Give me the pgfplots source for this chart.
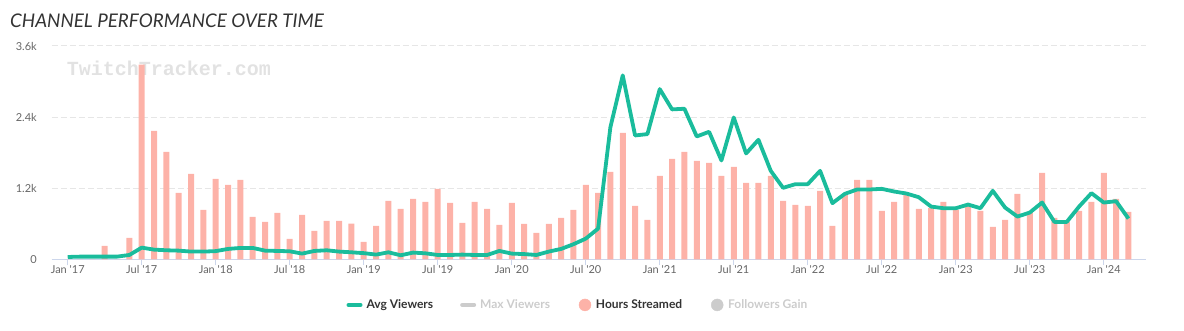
\documentclass[border=0pt]{standalone}
\usepackage{pgfplots}
\usepackage{pgfplotstable}
\pgfplotsset{compat=1.18}
\usepackage{fontspec}
\setmainfont{Lato}
\newfontfamily\wmfont{Liberation Mono}
\definecolor{avgcol}{HTML}{1ABC9C}
\definecolor{barcol}{HTML}{FDB2A8}
\definecolor{gridcol}{HTML}{E6E6E6}
\definecolor{axcol}{HTML}{CCD6EB}
\definecolor{lblcol}{HTML}{666666}
\definecolor{titlecol}{HTML}{333333}
\definecolor{greycol}{HTML}{CCCCCC}
\definecolor{wmcol}{HTML}{E2E2E2}

\pgfplotstableread{
m v
0 0
1 0
2 0
3 225
4 0
5 361
6 3285
7 2169
8 1814
9 1121
10 1442
11 834
12 1358
13 1256
14 1341
15 716
16 631
17 783
18 344
19 749
20 479
21 648
22 648
23 603
24 293
25 563
26 986
27 851
28 1020
29 969
30 1189
31 952
32 614
33 969
34 851
35 580
36 952
37 597
38 445
39 597
40 699
41 834
42 1256
43 1121
44 1476
45 2135
46 901
47 665
48 1409
49 1696
50 1814
51 1662
52 1628
53 1409
54 1561
55 1290
56 1290
57 1409
58 986
59 918
60 901
61 1155
62 563
63 1087
64 1341
65 1341
66 817
67 969
68 1087
69 851
70 868
71 969
72 834
73 901
74 817
75 547
76 665
77 1104
78 783
79 1459
80 699
81 631
82 817
83 969
84 1459
85 1020
86 800
}\hours

\pgfplotstableread{
m v
0 39
1 45
2 45
3 45
4 45
5 73
6 197
7 163
8 152
9 146
10 130
11 130
12 138
13 175
14 192
15 192
16 146
17 141
18 135
19 96
20 141
21 152
22 130
23 118
24 104
25 79
26 118
27 68
28 113
29 101
30 73
31 73
32 79
33 73
34 73
35 141
36 96
37 88
38 73
39 130
40 175
41 254
42 349
43 518
44 2231
45 3104
46 2090
47 2113
48 2873
49 2530
50 2541
51 2073
52 2152
53 1668
54 2394
55 1786
56 2017
57 1493
58 1206
59 1268
60 1268
61 1493
62 947
63 1104
64 1178
65 1178
66 1189
67 1144
68 1110
69 1048
70 890
71 862
72 862
73 924
74 862
75 1155
76 873
77 721
78 789
79 958
80 631
81 631
82 890
83 1116
84 958
85 980
86 687
}\avg

\begin{document}
\begin{tikzpicture}[x=1pt,y=1pt]
\path[use as bounding box] (0,0) rectangle (1184,331);
\node[anchor=base west, inner sep=0, font=\fontsize{18.8}{22}\selectfont\itshape, text=titlecol] at (10,303) {CHANNEL PERFORMANCE OVER TIME};
\node[inner sep=0, font=\wmfont\bfseries\fontsize{20}{24}\selectfont, text=wmcol] at (169,263) {TwitchTracker.com};
\begin{axis}[
  at={(51.7pt,71.7pt)}, anchor=south west, scale only axis,
  width=1094pt, height=213.3pt,
  xmin=-1.3, xmax=87.4, ymin=0, ymax=3600,
  axis x line*=bottom, axis y line*=left,
  y axis line style={draw=none},
  x axis line style={draw=axcol, line width=1pt},
  ytick={0,1200,2400,3600}, yticklabels={0,1.2k,2.4k,3.6k},
  ymajorgrids, grid style={draw=gridcol, line width=1pt, dash pattern=on 6pt off 3pt},
  ytick style={draw=none},
  xtick={0,6,...,84},
  xticklabels={Jan \textquotesingle17,Jul \textquotesingle17,Jan \textquotesingle18,Jul \textquotesingle18,Jan \textquotesingle19,Jul \textquotesingle19,Jan \textquotesingle20,Jul \textquotesingle20,Jan \textquotesingle21,Jul \textquotesingle21,Jan \textquotesingle22,Jul \textquotesingle22,Jan \textquotesingle23,Jul \textquotesingle23,Jan \textquotesingle24},
  xtick align=outside, major tick length=6pt,
  xtick style={draw=axcol, line width=1pt},
  /pgf/number format/assume math mode=true,
  yticklabel style={font=\fontsize{11}{13}\selectfont, text=lblcol, anchor=east, inner sep=0pt, xshift=-14.7pt},
  xticklabel style={font=\fontsize{11}{13}\selectfont, text=lblcol, anchor=north, inner sep=0pt},
  legend columns=4,
  legend style={at={(0.481,-0.214)}, anchor=center, draw=none, fill=none,
    font=\bfseries\fontsize{12}{14}\selectfont, text=titlecol,
    /tikz/every even column/.append style={column sep=25pt}},
  clip=false,
]
\addplot[ybar, bar width=6pt, bar shift=0pt, fill=barcol, draw=none, forget plot] table[x=m,y=v] {\hours};
\addplot[avgcol, line width=3.8pt, line join=round, mark=none, forget plot] table[x=m,y=v] {\avg};
\addlegendimage{legend image code/.code={\draw[avgcol, line width=4pt, line cap=round] (2pt,0pt) -- (14pt,0pt); \path[draw=none, fill=none] (0pt,0pt) -- (18pt,0pt);}}
\addlegendentry{Avg Viewers}
\addlegendimage{legend image code/.code={\draw[greycol, line width=4pt, line cap=round] (2pt,0pt) -- (14pt,0pt); \path[draw=none, fill=none] (0pt,0pt) -- (18pt,0pt);}}
\addlegendentry{\textcolor{greycol}{Max Viewers}}
\addlegendimage{legend image code/.code={\fill[barcol] (8pt,0pt) circle (6pt); \path[draw=none, fill=none] (0pt,0pt) -- (17pt,0pt);}}
\addlegendentry{Hours Streamed}
\addlegendimage{legend image code/.code={\fill[greycol] (8pt,0pt) circle (6pt); \path[draw=none, fill=none] (0pt,0pt) -- (17pt,0pt);}}
\addlegendentry{\textcolor{greycol}{Followers Gain}}
\end{axis}
\end{tikzpicture}
\end{document}
